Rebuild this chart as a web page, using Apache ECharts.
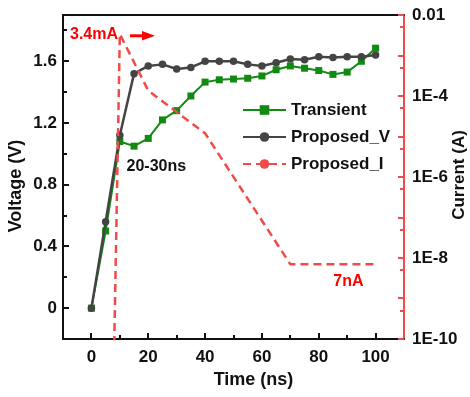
<!DOCTYPE html>
<html><head><meta charset="utf-8">
<script src="https://cdn.jsdelivr.net/npm/echarts@6/dist/echarts.min.js"></script>
<style>html,body{margin:0;padding:0;background:#fff}#c{width:470px;height:397px}</style>
</head><body><div id="c"></div>
<script>
const times = [0,5,10,15,20,25,30,35,40,45,50,55,60,65,70,75,80,85,90,95,100];
const transient = [0,0.50,1.08,1.05,1.10,1.22,1.28,1.375,1.465,1.48,1.485,1.49,1.505,1.545,1.57,1.555,1.54,1.515,1.53,1.60,1.685];
const proposedV = [0,0.56,1.12,1.52,1.57,1.58,1.55,1.56,1.60,1.60,1.60,1.58,1.57,1.59,1.615,1.61,1.63,1.625,1.63,1.63,1.64];
const currentTimes = [5,10,20,40,70,100];
const proposedI = [1e-22,3.4e-3,1.35e-4,1.2e-5,7e-9,7e-9];
const xTicks = [0,20,40,60,80,100];
const xMinorTicks = [10,30,50,70,90];
const vTicks = [0,0.4,0.8,1.2,1.6];
const vMinorTicks = [0.2,0.6,1.0,1.4,1.8];
const iTicks = [1e-10,1e-9,1e-8,1e-7,1e-6,1e-5,1e-4,1e-3,1e-2];
const iLabels = [1e-10,1e-8,1e-6,1e-4,1e-2];
const iMinorTicks = [5e-10,5e-9,5e-8,5e-7,5e-6,5e-5,5e-4,5e-3];

const FONT = 'Liberation Sans, Arial, sans-serif';
const RED = '#f04a4a';
const lbl = {fontFamily: FONT, fontWeight: 'bold', fontSize: 17, color: '#111'};
const chart = echarts.init(document.getElementById('c'), null, {renderer: 'canvas'});
const xr = {min: -10, max: 110};
const vr = {min: -0.2, max: 1.9};
const ir = {min: 1e-10, max: 1e-2};

// Tick marks placed through the axes' own scales (api.coord)
function tickSeries(yIdx, points, dx, dy, color, width) {
  return {type: 'custom', xAxisIndex: 0, yAxisIndex: yIdx, silent: true, clip: false, z: 10,
    data: points,
    renderItem: (p, api) => {
      const c = api.coord([api.value(0), api.value(1)]);
      const x = Math.round(c[0]), y = Math.round(c[1]);
      return {type: 'line', shape: {x1: x, y1: y, x2: x + dx, y2: y + dy},
        style: {stroke: color, lineWidth: width}};
    }};
}

chart.setOption({
  animation: false,
  grid: {left: 63, right: 66, top: 15, bottom: 58},
  legend: {
    data: ['Transient', 'Proposed_V', 'Proposed_I'],
    orient: 'vertical', left: 242, top: 100, padding: 0,
    itemWidth: 43, itemHeight: 12, itemGap: 7,
    textStyle: Object.assign({}, lbl, {lineHeight: 20})
  },
  xAxis: [
    Object.assign({type: 'value', position: 'bottom',
      axisLine: {onZero: false, lineStyle: {color: '#111', width: 2}},
      axisTick: {show: false},
      axisLabel: Object.assign({}, lbl, {margin: 10, customValues: xTicks}),
      splitLine: {show: false}}, xr),
    Object.assign({type: 'value', position: 'top',
      axisLine: {onZero: false, lineStyle: {color: '#111', width: 2}},
      axisTick: {show: false}, axisLabel: {show: false}, splitLine: {show: false}}, xr)
  ],
  yAxis: [
    Object.assign({type: 'value', position: 'left',
      axisLine: {show: true, onZero: false, lineStyle: {color: '#111', width: 2}},
      axisTick: {show: false},
      axisLabel: Object.assign({}, lbl, {margin: 6, customValues: vTicks,
        formatter: v => Math.abs(v) < 1e-9 ? '0' : v.toFixed(1)}),
      splitLine: {show: false}}, vr),
    Object.assign({type: 'log', position: 'right',
      axisLine: {show: true, onZero: false, lineStyle: {color: RED, width: 2}},
      axisTick: {show: false},
      axisLabel: Object.assign({}, lbl, {margin: 8, customValues: iLabels,
        formatter: v => v > 5e-3 ? '0.01' : '1E' + Math.round(Math.log10(v))}),
      splitLine: {show: false}}, ir)
  ],
  series: [
    {name: 'Transient', type: 'line', xAxisIndex: 0, yAxisIndex: 0, z: 2,
      data: times.map((t, i) => [t, transient[i]]),
      symbol: 'rect', symbolSize: 7, color: '#118a11',
      itemStyle: {color: '#118a11'}, lineStyle: {color: '#118a11', width: 2}},
    {name: 'Proposed_V', type: 'line', xAxisIndex: 0, yAxisIndex: 0, z: 3,
      data: times.map((t, i) => [t, proposedV[i]]),
      symbol: 'circle', symbolSize: 7.5, color: '#444',
      itemStyle: {color: '#444'}, lineStyle: {color: '#444', width: 2.5}},
    {name: 'Proposed_I', type: 'line', xAxisIndex: 0, yAxisIndex: 1, z: 4,
      data: currentTimes.map((t, i) => [t, proposedI[i]]),
      symbol: 'none', color: RED, clip: true,
      lineStyle: {color: RED, width: 2.5, type: [8, 5]}},
    tickSeries(0, xTicks.map(v => [v, vr.min]), 0, -6, '#111', 2),
    tickSeries(0, xMinorTicks.map(v => [v, vr.min]), 0, -4, '#111', 2),
    tickSeries(0, vTicks.map(v => [xr.min, v]), 6, 0, '#111', 2),
    tickSeries(0, vMinorTicks.map(v => [xr.min, v]), 4, 0, '#111', 2),
    tickSeries(1, iTicks.map(v => [xr.max, v]), -6, 0, RED, 2),
    tickSeries(1, iMinorTicks.map(v => [xr.max, v]), -4, 0, RED, 2)
  ],
  graphic: [
    {type: 'text', x: 16.5, y: 186, rotation: Math.PI / 2,
      style: {text: 'Voltage (V)', font: 'bold 18px ' + FONT, fill: '#111', align: 'center', verticalAlign: 'middle'}},
    {type: 'text', x: 459.5, y: 175, rotation: Math.PI / 2,
      style: {text: 'Current (A)', font: 'bold 17px ' + FONT, fill: '#111', align: 'center', verticalAlign: 'middle'}},
    {type: 'text', x: 253.5, y: 380.5,
      style: {text: 'Time (ns)', font: 'bold 18px ' + FONT, fill: '#111', align: 'center', verticalAlign: 'middle'}},
    {type: 'text', x: 70, y: 35,
      style: {text: '3.4mA', font: 'bold 16px ' + FONT, fill: '#ff0000', align: 'left', verticalAlign: 'middle'}},
    {type: 'line', shape: {x1: 130, y1: 35.8, x2: 145, y2: 35.8}, style: {stroke: '#ff0000', lineWidth: 3}},
    {type: 'polygon', shape: {points: [[142, 31], [155, 35.8], [142, 40.6]]}, style: {fill: '#ff0000'}},
    {type: 'text', x: 126.5, y: 166.7,
      style: {text: '20-30ns', font: 'bold 16px ' + FONT, fill: '#111', align: 'left', verticalAlign: 'middle'}},
    {type: 'text', x: 333.3, y: 282,
      style: {text: '7nA', font: 'bold 16px ' + FONT, fill: '#ff0000', align: 'left', verticalAlign: 'middle'}}
  ]
});
</script></body></html>
